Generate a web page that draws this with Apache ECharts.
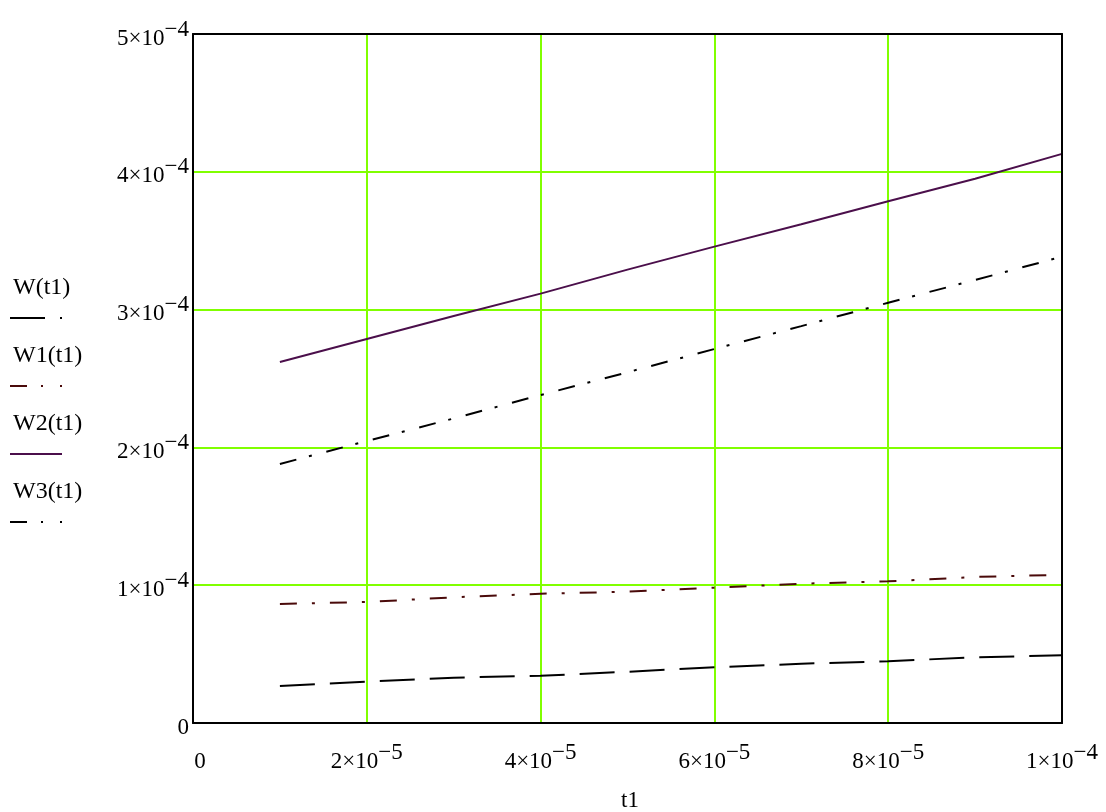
<!DOCTYPE html>
<html>
<head>
<meta charset="utf-8">
<title>W(t1)</title>
<script src="https://cdn.jsdelivr.net/npm/echarts@6/dist/echarts.min.js"></script>
<style>
  html, body { margin: 0; padding: 0; background: #fff; }
  #chart { width: 1106px; height: 812px; }
</style>
</head>
<body>
<div id="chart"></div>
<script>
// data
var t1 = [1e-5, 2e-5, 3e-5, 4e-5, 5e-5, 6e-5, 7e-5, 8e-5, 9e-5, 1e-4];
var W  = [0.268e-4, 0.300e-4, 0.329e-4, 0.343e-4, 0.372e-4, 0.404e-4, 0.430e-4, 0.448e-4, 0.477e-4, 0.491e-4];
var W1 = [0.864e-4, 0.878e-4, 0.912e-4, 0.938e-4, 0.953e-4, 0.982e-4, 1.011e-4, 1.028e-4, 1.060e-4, 1.076e-4];
var W2 = [2.620e-4, 2.787e-4, 2.954e-4, 3.116e-4, 3.290e-4, 3.457e-4, 3.620e-4, 3.786e-4, 3.950e-4, 4.130e-4];
var W3 = [1.880e-4, 2.046e-4, 2.210e-4, 2.380e-4, 2.545e-4, 2.714e-4, 2.880e-4, 3.050e-4, 3.215e-4, 3.384e-4];

// tick labels: [mantissa, exponent]
var xTicks = [['0', ''], ['2×10', '−5'], ['4×10', '−5'], ['6×10', '−5'], ['8×10', '−5'], ['1×10', '−4']];
var yTicks = [['0', ''], ['1×10', '−4'], ['2×10', '−4'], ['3×10', '−4'], ['4×10', '−4'], ['5×10', '−4']];

var names = ['W(t1)', 'W1(t1)', 'W2(t1)', 'W3(t1)'];

var FONT = '"Liberation Serif", "DejaVu Serif", serif';
var GRID_GREEN = '#80ff00';

function pairs(ys) {
  return t1.map(function (x, i) { return [x, ys[i]]; });
}

function tickText(list, step, zeroStyle) {
  return function (v) {
    var k = Math.round(v / step);
    var t = list[k];
    if (!t) return '';
    if (!t[1]) return '{' + zeroStyle + '|' + t[0] + '}';
    return '{m|' + t[0] + '}{s|' + t[1] + '}';
  };
}

var rich = {
  m: { fontFamily: FONT, fontSize: 23, color: '#000', lineHeight: 32, verticalAlign: 'bottom' },
  s: { fontFamily: FONT, fontSize: 23, color: '#000', lineHeight: 23, verticalAlign: 'top' },
  z: { fontFamily: FONT, fontSize: 23, color: '#000', lineHeight: 32, verticalAlign: 'bottom', padding: [0, 0, 0, 14] }
};

var chart = echarts.init(document.getElementById('chart'));

// legend drawn by hand: name above, line sample below
var legendStyles = [
  { color: '#000', dash: [35, 15, 2, 100] },
  { color: '#4a0a0a', dash: [17, 14, 2, 17, 2, 60] },
  { color: '#4b0f4b', dash: null },
  { color: '#000', dash: [17, 14, 2, 17, 2, 60] }
];
var legendY = [288, 356, 424, 492];
var graphics = [];
names.forEach(function (n, i) {
  graphics.push({
    type: 'text', x: 13, y: legendY[i],
    style: { text: n, font: '24px ' + FONT, fill: '#000', verticalAlign: 'middle' }
  });
  graphics.push({
    type: 'line',
    shape: { x1: 10, y1: legendY[i] + 30, x2: 62, y2: legendY[i] + 30 },
    style: { stroke: legendStyles[i].color, lineWidth: 2, lineDash: legendStyles[i].dash }
  });
});
graphics.push({
  type: 'text', x: 630, y: 801,
  style: { text: 't1', font: '23px ' + FONT, fill: '#000', align: 'center', verticalAlign: 'middle' }
});

// top and right edges of the frame
var frameAxis = {
  axisLine: { show: true, onZero: false, lineStyle: { color: '#000', width: 2 } },
  axisTick: { show: false }, axisLabel: { show: false }, splitLine: { show: false }, z: 10
};

var option = {
  backgroundColor: '#fff',
  animation: false,
  grid: { left: 193, right: 44, top: 34, bottom: 89 },
  xAxis: [{
    type: 'value', min: 0, max: 1e-4, interval: 2e-5,
    axisLine: { show: true, onZero: false, lineStyle: { color: '#000', width: 2 } },
    axisTick: { show: false },
    splitLine: { show: true, lineStyle: { color: GRID_GREEN, width: 2 } },
    axisLabel: { formatter: tickText(xTicks, 2e-5, 'z'), rich: rich, margin: 18, showMinLabel: true, showMaxLabel: true, align: 'center' }
  }, Object.assign({ type: 'value', min: 0, max: 1e-4, position: 'top' }, frameAxis)],
  yAxis: [{
    type: 'value', min: 0, max: 5e-4, interval: 1e-4,
    axisLine: { show: true, onZero: false, lineStyle: { color: '#000', width: 2 } },
    axisTick: { show: false },
    splitLine: { show: true, lineStyle: { color: GRID_GREEN, width: 2 } },
    axisLabel: { formatter: tickText(yTicks, 1e-4, 'm'), rich: rich, margin: 4, align: 'right' }
  }, Object.assign({ type: 'value', min: 0, max: 5e-4, position: 'right' }, frameAxis)],
  graphic: graphics,
  series: [
    {
      name: names[0], type: 'line', data: pairs(W), symbol: 'none', z: 5,
      lineStyle: { color: '#000', width: 2, type: [35, 15] }
    },
    {
      name: names[1], type: 'line', data: pairs(W1), symbol: 'none', z: 5,
      lineStyle: { color: '#4a0a0a', width: 2, type: [17, 15, 3, 15] }
    },
    {
      name: names[2], type: 'line', data: pairs(W2), symbol: 'none', z: 5,
      lineStyle: { color: '#4b0f4b', width: 2, type: 'solid' }
    },
    {
      name: names[3], type: 'line', data: pairs(W3), symbol: 'none', z: 5,
      lineStyle: { color: '#000', width: 2, type: [17, 13, 3, 15] }
    }
  ]
};

chart.setOption(option);
window.addEventListener('resize', function () { chart.resize(); });
</script>
</body>
</html>
